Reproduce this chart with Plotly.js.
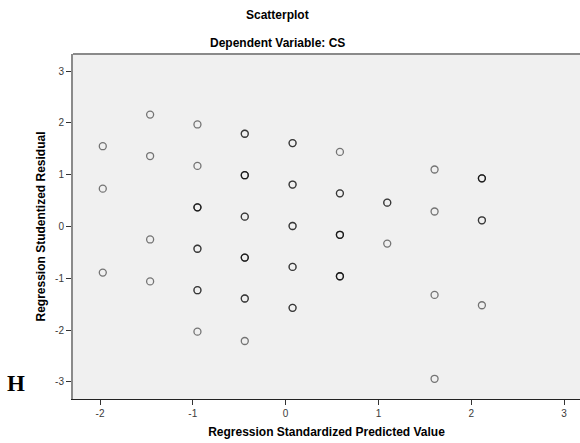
<!DOCTYPE html>
<html>
<head>
<meta charset="utf-8">
<script src="https://cdn.plot.ly/plotly-3.0.1.min.js"></script>
<style>html,body{margin:0;padding:0;background:#fff;}#chart{width:580px;height:443px;}</style>
</head>
<body>
<div id="chart"></div>
<script>
// Regression standardized predicted value (x) for each plotted residual
const predictedValue = [
  -1.97, -1.97, -1.97,
  -1.46, -1.46, -1.46, -1.46,
  -0.95, -0.95, -0.95, -0.95, -0.95, -0.95,
  -0.44, -0.44, -0.44, -0.44, -0.44, -0.44,
  0.075, 0.075, 0.075, 0.075, 0.075,
  0.585, 0.585, 0.585, 0.585,
  1.095, 1.095,
  1.605, 1.605, 1.605, 1.605,
  2.115, 2.115, 2.115
];
// Regression studentized residual (y)
const studentizedResidual = [
  1.55, 0.73, -0.89,
  2.16, 1.36, -0.25, -1.06,
  1.97, 1.17, 0.37, -0.43, -1.23, -2.03,
  1.79, 0.99, 0.19, -0.60, -1.39, -2.21,
  1.61, 0.81, 0.01, -0.78, -1.57,
  1.44, 0.64, -0.16, -0.96,
  0.46, -0.33,
  1.10, 0.29, -1.32, -2.94,
  0.93, 0.12, -1.52
];
// number of overlapping cases at each point
const caseCount = [
  1, 1, 1,
  1, 1, 1, 1,
  1, 1, 3, 2, 2, 1,
  2, 3, 2, 3, 2, 1,
  2, 2, 2, 2, 2,
  1, 2, 3, 3,
  2, 1,
  1, 1, 1, 1,
  3, 2, 1
];
const xTicks = [-2, -1, 0, 1, 2, 3];
const yTicks = [-3, -2, -1, 0, 1, 2, 3];

const xs = [], ys = [];
predictedValue.forEach((x, i) => {
  for (let k = 0; k < caseCount[i]; k++) { xs.push(x); ys.push(studentizedResidual[i]); }
});

const trace = {
  type: 'scatter', mode: 'markers', x: xs, y: ys,
  marker: { symbol: 'circle-open', size: 7, color: 'rgba(0,0,0,0.52)', line: { width: 1.3, color: 'rgba(0,0,0,0.52)' } },
  hoverinfo: 'x+y', showlegend: false
};

const axisFont = { family: 'Liberation Sans, Arial, sans-serif', size: 10, color: '#3a3a3a' };
const titleFont = { family: 'Liberation Sans, Arial, sans-serif', size: 12, color: '#000', weight: 'bold' };

const layout = {
  width: 580, height: 443,
  margin: { l: 73, r: 0, t: 54, b: 44 },
  paper_bgcolor: '#ffffff', plot_bgcolor: '#f0f0f0',
  xaxis: {
    range: [-2.291, 3.172], tickvals: xTicks, ticktext: xTicks.map(String),
    showgrid: false, zeroline: false, showline: true, linecolor: '#222', linewidth: 1,
    ticks: 'outside', ticklen: 5, tickcolor: '#333', tickwidth: 1, tickfont: axisFont,
    title: { text: '<b>Regression Standardized Predicted Value</b>', font: titleFont, standoff: 9 }
  },
  yaxis: {
    range: [-3.33, 3.33], tickvals: yTicks, ticktext: yTicks.map(String),
    showgrid: false, zeroline: false, showline: true, linecolor: '#8a8a8a', linewidth: 2,
    ticks: 'outside', ticklen: 5, tickcolor: '#333', tickwidth: 1, tickfont: axisFont,
    title: { text: '<b>Regression Studentized Residual</b>', font: titleFont, standoff: 7 }
  },
  shapes: [
    { type: 'line', xref: 'paper', yref: 'paper', x0: 0, x1: 1, y0: 1, y1: 1, line: { color: '#8a8a8a', width: 2 } }
  ],
  annotations: [
    { text: '<b>Scatterplot</b>', xref: 'paper', yref: 'paper', x: 0.404, y: 1.113, showarrow: false,
      xanchor: 'center', yanchor: 'middle', font: titleFont },
    { text: '<b>Dependent Variable: CS</b>', xref: 'paper', yref: 'paper', x: 0.404, y: 1.033, showarrow: false,
      xanchor: 'center', yanchor: 'middle', font: titleFont },
    { text: '<b>H</b>', xref: 'paper', yref: 'paper', x: -0.112, y: 0.046, showarrow: false,
      xanchor: 'center', yanchor: 'middle', font: { family: 'Liberation Serif, Times New Roman, serif', size: 23, color: '#000' } }
  ]
};

Plotly.newPlot('chart', [trace], layout, { displayModeBar: false, staticPlot: true });
</script>
</body>
</html>
